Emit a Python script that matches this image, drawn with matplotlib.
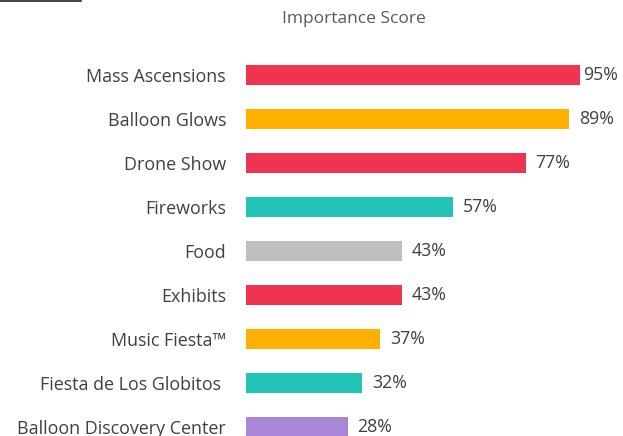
import matplotlib
matplotlib.use("Agg")
import matplotlib.pyplot as plt
from matplotlib.lines import Line2D

# data
events = ["Mass Ascensions", "Balloon Glows", "Drone Show", "Fireworks", "Food",
          "Exhibits", "Music Fiesta\u2122", "Fiesta de Los Globitos ", "Balloon Discovery Center"]
scores = [95, 89, 77, 57, 43, 43, 37, 32, 28]
colors = ["#EE3451", "#FFB000", "#EE3451", "#22C5B5", "#BFBFBF",
          "#EE3451", "#FFB000", "#22C5B5", "#AA86D8"]
x_max = 92

plt.rcParams["font.family"] = ["Open Sans", "DejaVu Sans"]

fig = plt.figure(figsize=(6.23, 4.36), dpi=100)
ax = fig.add_axes([0.3949, -0.0305, 0.5361, 0.9083])

y = list(range(len(events)))
ax.barh(y, scores, height=0.45, color=colors)
ax.set_xlim(0, x_max)
ax.set_ylim(len(events) - 0.5, -0.5)

ax.set_yticks(y)
ax.set_yticklabels(events, fontsize=12.9, color="#404040")
ax.tick_params(axis="y", length=0, pad=14.5)
ax.set_xticks([])
for s in ax.spines.values():
    s.set_visible(False)

for i, v in enumerate(scores):
    if v > x_max:
        ax.annotate(f"{v}%", (x_max, i), xytext=(2, 0), textcoords="offset points",
                    va="center", ha="left", fontsize=12.8, color="#404040")
    else:
        ax.annotate(f"{v}%", (v, i), xytext=(7, 0), textcoords="offset points",
                    va="center", ha="left", fontsize=12.8, color="#404040")

fig.text(0.568, 0.956, "Importance Score", ha="center", va="center",
         fontsize=12.5, color="#595959")

# stray border fragment at top left
fig.add_artist(Line2D([0, 0.13], [0.998, 0.998], color="#222222", lw=1.2,
                      transform=fig.transFigure))

fig.savefig("out.png", dpi=100)
